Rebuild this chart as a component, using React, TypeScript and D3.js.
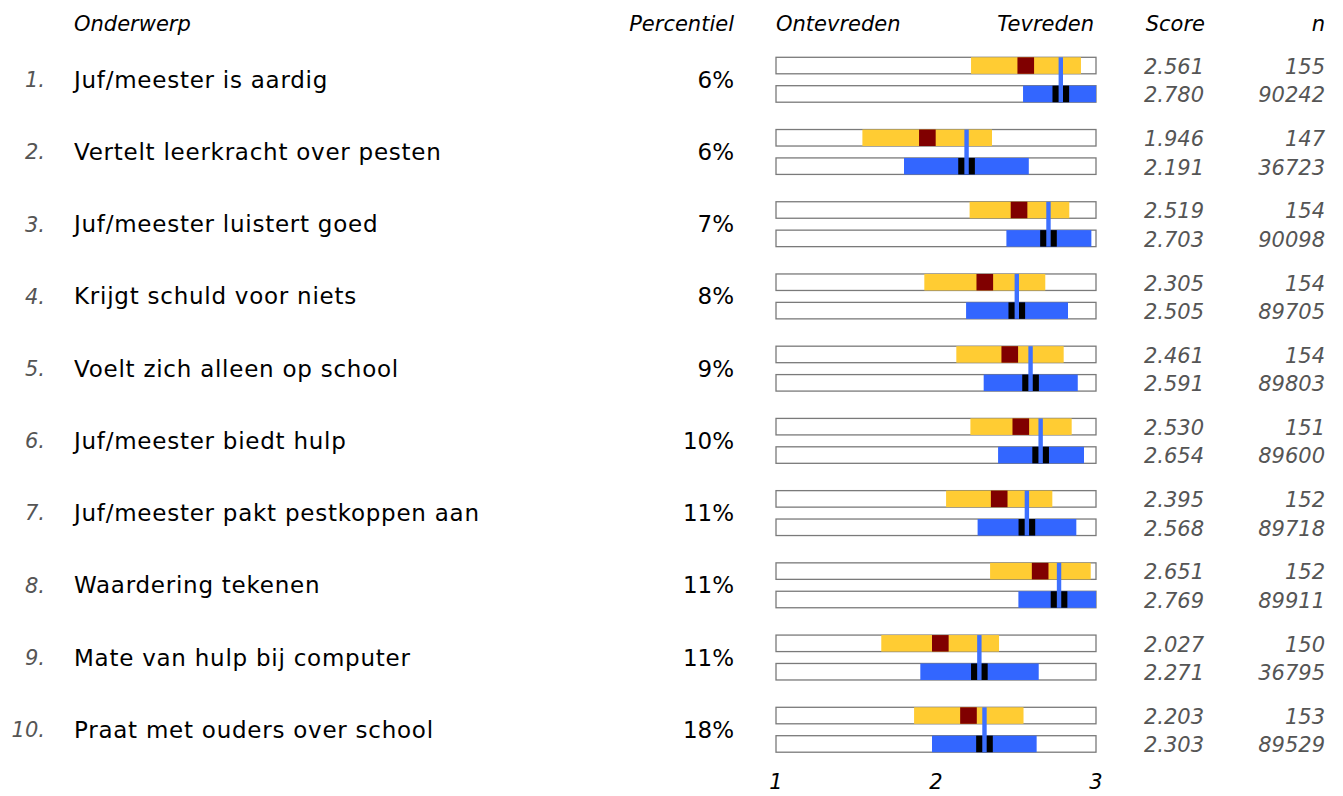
import React from "react";
import * as d3 from "d3";

// Survey topics with school score (top bar) and benchmark (bottom bar)
const topics = [
  "Juf/meester is aardig",
  "Vertelt leerkracht over pesten",
  "Juf/meester luistert goed",
  "Krijgt schuld voor niets",
  "Voelt zich alleen op school",
  "Juf/meester biedt hulp",
  "Juf/meester pakt pestkoppen aan",
  "Waardering tekenen",
  "Mate van hulp bij computer",
  "Praat met ouders over school",
];
const percentiles = ["6%", "6%", "7%", "8%", "9%", "10%", "11%", "11%", "11%", "18%"];

const schoolScore = [2.561, 1.946, 2.519, 2.305, 2.461, 2.53, 2.395, 2.651, 2.027, 2.203];
const schoolN = [155, 147, 154, 154, 154, 151, 152, 152, 150, 153];
const schoolLow = [2.219, 1.54, 2.21, 1.927, 2.127, 2.215, 2.063, 2.338, 1.658, 1.863];
const schoolHigh = [2.906, 2.35, 2.833, 2.683, 2.798, 2.848, 2.727, 2.967, 2.394, 2.547];

const benchScore = [2.78, 2.191, 2.703, 2.505, 2.591, 2.654, 2.568, 2.769, 2.271, 2.303];
const benchN = [90242, 36723, 90098, 89705, 89803, 89600, 89718, 89911, 36795, 89529];
const benchLow = [2.544, 1.8, 2.44, 2.188, 2.298, 2.388, 2.26, 2.515, 1.902, 1.975];
const benchHigh = [3.0, 2.58, 2.971, 2.825, 2.886, 2.925, 2.877, 3.0, 2.642, 2.629];

// half-width of the interval block drawn around each mean
const ciHalf = 0.052;

const axisTicks = [1, 2, 3];

const FONT = "'DejaVu Sans', Verdana, sans-serif";
const W = 1343;
const H = 796;

export default function App() {
  const x = d3.scaleLinear().domain([1, 3]).range([776, 1096]);
  const rowTop = d3
    .scaleLinear()
    .domain([0, topics.length - 1])
    .range([57.3, 707.3]);
  const barH = 16.5;
  const barGap = 28.4;

  const yellow = "#FFCC33";
  const darkRed = "#800000";
  const blue = "#3366FF";
  const lineBlue = "#3D70FF";
  const outline = "#7a7a7a";

  return (
    <svg
      width={W}
      height={H}
      style={{ position: "absolute", left: 0, top: 0, background: "#fff" }}
      fontFamily={FONT}
    >
      {/* column headers */}
      <g fontStyle="italic" fontSize={21} fill="#000">
        <text x={74} y={24} dy="0.35em">Onderwerp</text>
        <text x={734} y={24} dy="0.35em" textAnchor="end">Percentiel</text>
        <text x={776} y={24} dy="0.35em">Ontevreden</text>
        <text x={1094} y={24} dy="0.35em" textAnchor="end">Tevreden</text>
        <text x={1205} y={24} dy="0.35em" textAnchor="end">Score</text>
        <text x={1325} y={24} dy="0.35em" textAnchor="end">n</text>
      </g>

      {topics.map((t, i) => {
        const top = rowTop(i);
        const bot = top + barGap;
        const mid = (top + bot + barH) / 2;
        return (
          <g key={t}>
            <text x={45} y={mid} dy="0.35em" textAnchor="end" fontStyle="italic" fontSize={21} fill="#555">
              {`${i + 1}.`}
            </text>
            <text x={74} y={mid} dy="0.35em" fontSize={23} letterSpacing={0.75} fill="#000">
              {t}
            </text>
            <text x={734} y={mid} dy="0.35em" textAnchor="end" fontSize={23} fill="#000">
              {percentiles[i]}
            </text>

            {/* school bar */}
            <rect x={x(1)} y={top} width={x(3) - x(1)} height={barH} fill="#fff" stroke={outline} strokeWidth={1.3} />
            <rect x={x(schoolLow[i])} y={top} width={x(schoolHigh[i]) - x(schoolLow[i])} height={barH} fill={yellow} />
            <rect
              x={x(schoolScore[i] - ciHalf)}
              y={top}
              width={x(schoolScore[i] + ciHalf) - x(schoolScore[i] - ciHalf)}
              height={barH}
              fill={darkRed}
            />

            {/* benchmark bar */}
            <rect x={x(1)} y={bot} width={x(3) - x(1)} height={barH} fill="#fff" stroke={outline} strokeWidth={1.3} />
            <rect x={x(benchLow[i])} y={bot} width={x(benchHigh[i]) - x(benchLow[i])} height={barH} fill={blue} />
            <rect
              x={x(benchScore[i] - ciHalf)}
              y={bot}
              width={x(benchScore[i] + ciHalf) - x(benchScore[i] - ciHalf)}
              height={barH}
              fill="#000"
            />

            {/* benchmark mean line through both bars */}
            <rect x={x(benchScore[i]) - 2.2} y={top} width={4.4} height={bot + barH - top} fill={lineBlue} />

            <g fontStyle="italic" fontSize={21} fill="#555" textAnchor="end">
              <text x={1204} y={top + barH / 2 + 1} dy="0.35em">{schoolScore[i].toFixed(3)}</text>
              <text x={1204} y={bot + barH / 2 + 1} dy="0.35em">{benchScore[i].toFixed(3)}</text>
              <text x={1325} y={top + barH / 2 + 1} dy="0.35em">{schoolN[i]}</text>
              <text x={1325} y={bot + barH / 2 + 1} dy="0.35em">{benchN[i]}</text>
            </g>
          </g>
        );
      })}

      {/* scale ticks */}
      <g fontStyle="italic" fontSize={21} fill="#000" textAnchor="middle">
        {axisTicks.map((v) => (
          <text key={v} x={x(v)} y={782} dy="0.35em">
            {v}
          </text>
        ))}
      </g>
    </svg>
  );
}
